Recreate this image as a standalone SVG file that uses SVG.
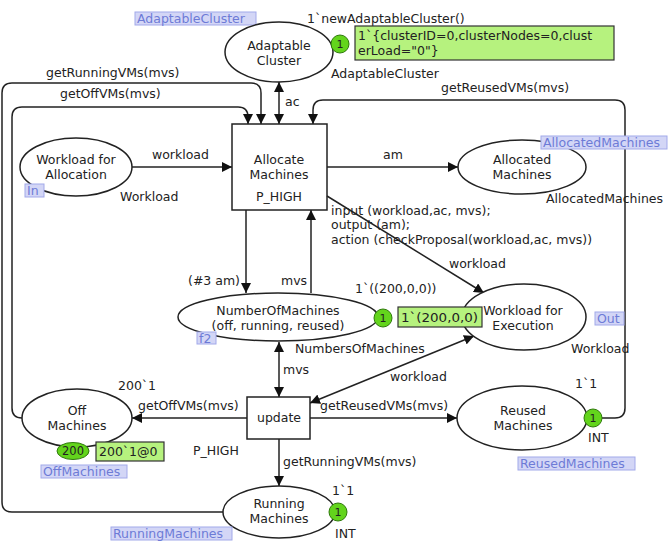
<svg xmlns="http://www.w3.org/2000/svg" width="672" height="550" viewBox="0 0 672 550">
<style>
text{font-family:"DejaVu Sans","Verdana",sans-serif;font-size:12.5px;fill:#222}
.c{text-anchor:middle}
.place{fill:#fff;stroke:#222;stroke-width:1.5}
.trans{fill:#fff;stroke:#222;stroke-width:1.5}
.arc{fill:none;stroke:#222;stroke-width:1.5}
.tag{fill:#d3d6f6;stroke:#a2a9ea;stroke-width:1}
.tagt{fill:#6d7bd6}
.tok{fill:#63d41c;stroke:#2f7a0c;stroke-width:1}
.mark{fill:#b6f27e;stroke:#333;stroke-width:1.2}
</style>
<defs>
<marker id="ah" viewBox="0 0 10 10" refX="10" refY="5" markerWidth="10" markerHeight="10" markerUnits="userSpaceOnUse" orient="auto-start-reverse">
<path d="M0,0 L10,5 L0,10 z" fill="#111"/>
</marker>
</defs>
<rect width="672" height="550" fill="#fff"/>

<g id="connectors">
<path class="arc" d="M223,512 H12 Q2,512 2,502 V93 Q2,83 12,83 H251 Q261,83 261,93 V124" marker-end="url(#ah)"/>
<path class="arc" d="M22,418 Q12,418 12,408 V117 Q12,107 22,107 H238 Q248,107 248,117 V124" marker-end="url(#ah)"/>
<path class="arc" d="M602,418 H615 Q625,418 625,408 V110 Q625,100 615,100 H323 Q313,100 313,110 V124" marker-end="url(#ah)"/>
<path class="arc" d="M279,82 V124" marker-start="url(#ah)" marker-end="url(#ah)"/>
<path class="arc" d="M132,167 H232" marker-end="url(#ah)"/>
<path class="arc" d="M327,167 H458" marker-end="url(#ah)"/>
<path class="arc" d="M246,210 V293" marker-end="url(#ah)"/>
<path class="arc" d="M311,293 V210" marker-end="url(#ah)"/>
<path class="arc" d="M279,342 V397" marker-start="url(#ah)" marker-end="url(#ah)"/>
<path class="arc" d="M247,418 H132" marker-end="url(#ah)"/>
<path class="arc" d="M310,418 H457" marker-end="url(#ah)"/>
<path class="arc" d="M279,439 V486" marker-end="url(#ah)"/>
<path class="arc" d="M310,403 L474,336" marker-start="url(#ah)" marker-end="url(#ah)"/>
<text x="46" y="77">getRunningVMs(mvs)</text>
<text x="60" y="98">getOffVMs(mvs)</text>
<text x="441" y="92">getReusedVMs(mvs)</text>
<text x="285" y="106">ac</text>
<text x="152" y="159">workload</text>
<text x="383" y="159">am</text>
<text x="449" y="268">workload</text>
<text x="188" y="285">(#3 am)</text>
<text x="281" y="285">mvs</text>
<text x="283" y="374">mvs</text>
<text x="390" y="381">workload</text>
<text x="138" y="410">getOffVMs(mvs)</text>
<text x="320" y="410">getReusedVMs(mvs)</text>
<text x="283" y="466">getRunningVMs(mvs)</text>
</g>

<g id="tag-adaptablecluster">
<rect class="tag" x="135" y="12" width="121" height="13"/>
<text class="tagt" x="137" y="23">AdaptableCluster</text>
</g>

<g id="adaptable-cluster">
<ellipse class="place" cx="279" cy="52" rx="54" ry="30"/>
<text class="c" x="279" y="50">Adaptable</text>
<text class="c" x="279" y="65">Cluster</text>
<text x="307" y="23">1`newAdaptableCluster()</text>
<text x="331" y="78">AdaptableCluster</text>
<circle class="tok" cx="340" cy="44" r="9"/>
<text class="c" x="340" y="48" style="font-size:11px">1</text>
<rect class="mark" x="355" y="26" width="259" height="34"/>
<text x="358" y="40">1`{clusterID=0,clusterNodes=0,clust</text>
<text x="358" y="55">erLoad="0"}</text>
</g>

<g id="workload-for-allocation">
<ellipse class="place" cx="76" cy="167" rx="56" ry="29"/>
<text class="c" x="76" y="164">Workload for</text>
<text class="c" x="76" y="179">Allocation</text>
<text x="120" y="201">Workload</text>
<rect class="tag" x="25" y="184" width="19" height="13"/>
<text class="tagt" x="27" y="195">In</text>
</g>

<g id="allocate-machines">
<rect class="trans" x="232" y="124" width="95" height="86"/>
<text class="c" x="279" y="164">Allocate</text>
<text class="c" x="279" y="179">Machines</text>
<text class="c" x="279" y="201">P_HIGH</text>
<text x="331" y="215">input (workload,ac, mvs);</text>
<text x="331" y="229">output (am);</text>
<text x="331" y="244">action (checkProposal(workload,ac, mvs))</text>
</g>

<g id="connector-diagonal">
<path class="arc" d="M327,196 L484,293" marker-end="url(#ah)"/>
</g>

<g id="allocated-machines">
<ellipse class="place" cx="522" cy="167" rx="64" ry="27"/>
<text class="c" x="522" y="164">Allocated</text>
<text class="c" x="522" y="179">Machines</text>
<text x="546" y="203">AllocatedMachines</text>
<rect class="tag" x="541" y="136" width="126" height="13"/>
<text class="tagt" x="543" y="147">AllocatedMachines</text>
</g>

<g id="workload-for-execution">
<ellipse class="place" cx="524" cy="317" rx="62" ry="33"/>
<text class="c" x="523" y="315">Workload for</text>
<text class="c" x="523" y="330">Execution</text>
<text x="571" y="353">Workload</text>
<rect class="tag" x="595" y="312" width="29" height="13"/>
<text class="tagt" x="597" y="323">Out</text>
</g>

<g id="number-of-machines">
<ellipse class="place" cx="278" cy="317" rx="100" ry="24"/>
<text class="c" x="278" y="315">NumberOfMachines</text>
<text class="c" x="278" y="330">(off, running, reused)</text>
<text x="355" y="293">1`((200,0,0))</text>
<text x="295" y="353">NumbersOfMachines</text>
<rect class="tag" x="197" y="332" width="19" height="12"/>
<text class="tagt" x="199" y="343">f2</text>
<circle class="tok" cx="383" cy="318" r="9"/>
<text class="c" x="383" y="322" style="font-size:11px">1</text>
<rect class="mark" x="398" y="307" width="84" height="20"/>
<text x="401" y="322" textLength="77" lengthAdjust="spacingAndGlyphs">1`(200,0,0)</text>
</g>

<g id="update">
<rect class="trans" x="247" y="397" width="63" height="42"/>
<text class="c" x="279" y="422">update</text>
<text x="193" y="455">P_HIGH</text>
</g>

<g id="off-machines">
<ellipse class="place" cx="77" cy="418" rx="55" ry="29"/>
<text class="c" x="77" y="415">Off</text>
<text class="c" x="77" y="430">Machines</text>
<text x="118" y="390">200`1</text>
<ellipse class="tok" cx="73" cy="451" rx="16" ry="8.5"/>
<text class="c" x="73" y="455" style="font-size:11.5px">200</text>
<rect class="mark" x="96" y="442" width="68" height="19"/>
<text x="99" y="456">200`1@0</text>
<rect class="tag" x="41" y="465" width="86" height="13"/>
<text class="tagt" x="43" y="476">OffMachines</text>
</g>

<g id="reused-machines">
<ellipse class="place" cx="522" cy="418" rx="65" ry="32"/>
<text class="c" x="523" y="415">Reused</text>
<text class="c" x="523" y="430">Machines</text>
<text x="575" y="388">1`1</text>
<circle class="tok" cx="593" cy="418" r="9"/>
<text class="c" x="593" y="422" style="font-size:11px">1</text>
<text x="588" y="442">INT</text>
<rect class="tag" x="518" y="457" width="117" height="13"/>
<text class="tagt" x="520" y="468">ReusedMachines</text>
</g>

<g id="running-machines">
<ellipse class="place" cx="279" cy="512" rx="56" ry="26"/>
<text class="c" x="279" y="508">Running</text>
<text class="c" x="279" y="523">Machines</text>
<text x="332" y="495">1`1</text>
<circle class="tok" cx="338" cy="512" r="9"/>
<text class="c" x="338" y="516" style="font-size:11px">1</text>
<text x="335" y="538">INT</text>
<rect class="tag" x="111" y="527" width="121" height="13"/>
<text class="tagt" x="113" y="538">RunningMachines</text>
</g>
</svg>
